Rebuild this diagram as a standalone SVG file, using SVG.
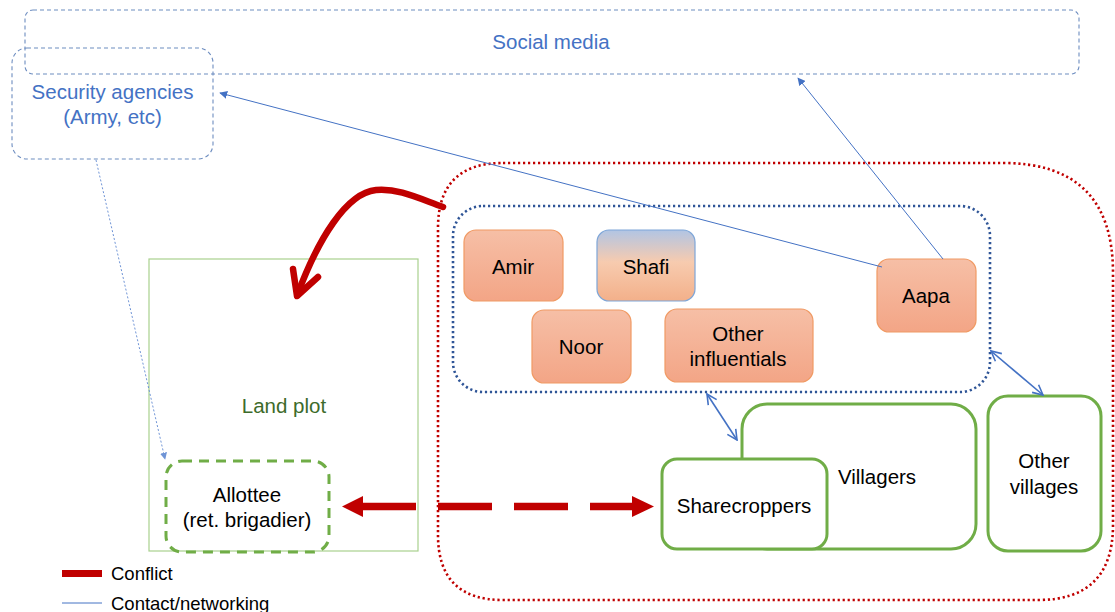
<svg xmlns="http://www.w3.org/2000/svg" width="1115" height="612" viewBox="0 0 1115 612">
<defs>
<style>
text{font-family:"Liberation Sans",Arial,sans-serif;text-anchor:middle}
.lbl{font-size:20.5px;fill:#000}
.blue{font-size:20.5px;fill:#4472c4}
.dash{fill:none;stroke:#6d8dc0;stroke-width:1.1;stroke-dasharray:4 3}
.orange{fill:url(#og);stroke:#f09a64;stroke-width:1.2}
.grn{fill:#fff;stroke:#70ad47;stroke-width:3}
.contact{stroke:#4472c4;stroke-width:1;fill:none}
.dbl{stroke:#4472c4;stroke-width:1.6;fill:none}
.conflict{stroke:#c00000;fill:none}
</style>
<linearGradient id="og" x1="0" y1="0" x2="0" y2="1">
<stop offset="0" stop-color="#f6bfa6"/><stop offset="1" stop-color="#f3a586"/>
</linearGradient>
<linearGradient id="sg" x1="0" y1="0" x2="0" y2="1">
<stop offset="0" stop-color="#b1c5e4"/><stop offset="0.45" stop-color="#f7cbaf"/><stop offset="1" stop-color="#f3b08a"/>
</linearGradient>
<marker id="tri" viewBox="0 0 10 10" refX="9" refY="5" markerWidth="8" markerHeight="8" markerUnits="userSpaceOnUse" orient="auto">
<path d="M0,0 L10,5 L0,10 z" fill="#4472c4"/>
</marker>
<marker id="triL" viewBox="0 0 10 10" refX="9" refY="5" markerWidth="7" markerHeight="7" markerUnits="userSpaceOnUse" orient="auto">
<path d="M0,0 L10,5 L0,10 z" fill="#6f94d6"/>
</marker>
<marker id="vEnd" viewBox="0 0 12 12" refX="11" refY="6" markerWidth="12" markerHeight="12" markerUnits="userSpaceOnUse" orient="auto">
<path d="M1,1 L11,6 L1,11" fill="none" stroke="#4472c4" stroke-width="1.6"/>
</marker>
<marker id="vStart" viewBox="0 0 12 12" refX="1" refY="6" markerWidth="12" markerHeight="12" markerUnits="userSpaceOnUse" orient="auto">
<path d="M11,1 L1,6 L11,11" fill="none" stroke="#4472c4" stroke-width="1.6"/>
</marker>
</defs>
<rect width="1115" height="612" fill="#fff"/>

<g id="social-media">
<rect class="dash" x="25" y="10" width="1054" height="64" rx="8"/>
<text class="blue" x="551" y="49">Social media</text>
</g>
<g id="security-agencies">
<rect class="dash" x="12" y="48" width="201" height="111" rx="15"/>
<text class="blue" x="112.5" y="99">Security agencies</text>
<text class="blue" x="112.5" y="124">(Army, etc)</text>
</g>

<g id="village-area">
<path d="M503,163 L1003,163 Q1113,163 1113,273 L1113,525 Q1113,600 1038,600 L503,600 Q438,600 438,535 L438,228 Q438,163 503,163 Z" fill="none" stroke="#c00000" stroke-width="2.6" stroke-dasharray="2.2 2.8"/>
</g>
<g id="influentials-group">
<rect x="453" y="206" width="537" height="186" rx="30" fill="none" stroke="#2f5597" stroke-width="2.6" stroke-dasharray="2.2 2.8"/>
</g>

<g id="land-plot">
<rect x="149" y="259" width="269" height="292" fill="none" stroke="#a9d18e" stroke-width="1.2"/>
<text x="284" y="413" style="font-size:20.5px;fill:#3d6b2a">Land plot</text>
</g>
<g id="allottee">
<rect x="166" y="461" width="163" height="91" rx="16" fill="none" stroke="#70ad47" stroke-width="3" stroke-dasharray="10 7"/>
<text class="lbl" x="247" y="502">Allottee</text>
<text class="lbl" x="247" y="527">(ret. brigadier)</text>
</g>

<g id="amir">
<rect class="orange" x="464" y="230" width="99" height="71" rx="12"/>
<text class="lbl" x="513" y="274">Amir</text>
</g>
<g id="shafi">
<rect x="597" y="230" width="98" height="71" rx="12" fill="url(#sg)" stroke="#7ea6d8" stroke-width="1.2"/>
<text class="lbl" x="646" y="274">Shafi</text>
</g>
<g id="noor">
<rect class="orange" x="532" y="310" width="99" height="73" rx="12"/>
<text class="lbl" x="581" y="354">Noor</text>
</g>
<g id="other-influentials">
<rect class="orange" x="665" y="309" width="148" height="73" rx="12"/>
<text class="lbl" x="738" y="341">Other</text>
<text class="lbl" x="738" y="366">influentials</text>
</g>
<g id="aapa">
<rect class="orange" x="877" y="259" width="99" height="73" rx="12"/>
<text class="lbl" x="926" y="303">Aapa</text>
</g>

<g id="villagers">
<rect class="grn" x="742" y="404" width="234" height="145" rx="25"/>
<text class="lbl" x="877" y="484">Villagers</text>
</g>
<g id="sharecroppers">
<rect class="grn" x="662" y="459" width="165" height="90" rx="15"/>
<text class="lbl" x="744" y="513">Sharecroppers</text>
</g>
<g id="other-villages">
<rect class="grn" x="988" y="396" width="113" height="155" rx="20"/>
<text class="lbl" x="1044" y="468">Other</text>
<text class="lbl" x="1044" y="494">villages</text>
</g>

<g id="connectors">
<line class="contact" x1="882" y1="267" x2="220" y2="93" marker-end="url(#tri)"/>
<line class="contact" x1="943" y1="259" x2="798" y2="78" marker-end="url(#tri)"/>
<line x1="96" y1="160" x2="165" y2="459" stroke="#6f94d6" stroke-width="1" stroke-dasharray="2 2" marker-end="url(#triL)"/>
<line class="dbl" x1="707" y1="394" x2="737" y2="440" marker-start="url(#vStart)" marker-end="url(#vEnd)"/>
<line class="dbl" x1="991" y1="351" x2="1043" y2="395" marker-start="url(#vStart)" marker-end="url(#vEnd)"/>
<path class="conflict" d="M443,207 C418,198 398,188 376,190 C346,193 318,240 298,293" stroke-width="6.5" stroke-linecap="round"/>
<path class="conflict" d="M293,269 L297,296 L318,277" stroke-width="6.5" stroke-linecap="round" stroke-linejoin="round"/>
<line class="conflict" x1="362" y1="506.5" x2="634" y2="506.5" stroke-width="7.5" stroke-dasharray="54 22"/>
<polygon points="342,506.5 363,496 363,517" fill="#c00000"/>
<polygon points="654,506.5 632,496 632,517" fill="#c00000"/>
</g>

<g id="legend">
<line x1="62" y1="573.5" x2="102" y2="573.5" stroke="#c00000" stroke-width="7"/>
<text x="111" y="580" style="font-size:18.5px;fill:#000;text-anchor:start">Conflict</text>
<line x1="62" y1="603" x2="102" y2="603" stroke="#4472c4" stroke-width="1"/>
<text x="111" y="610" style="font-size:18.5px;fill:#000;text-anchor:start">Contact/networking</text>
</g>
</svg>
